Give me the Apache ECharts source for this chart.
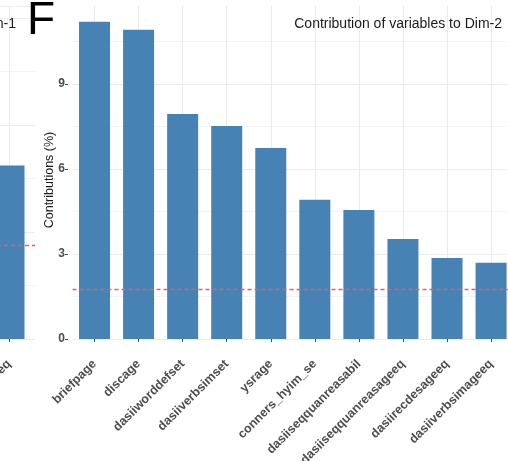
<!DOCTYPE html>
<html><head><meta charset="utf-8">
<script src="https://cdn.jsdelivr.net/npm/echarts@6/dist/echarts.min.js"></script>
<style>html,body{margin:0;padding:0;background:#fff}#c{width:508px;height:461px}</style>
</head><body><div id="c"></div>
<script>
// Main panel (F): Contribution of variables to Dim-2
const categories = ['briefpage', 'discage', 'dasiiworddefset', 'dasiiverbsimset', 'ysrage',
  'conners_hyim_se', 'dasiiseqquanreasabil', 'dasiiseqquanreasageeq', 'dasiirecdesageeq', 'dasiiverbsimageeq'];
const contributions = [11.19, 10.91, 7.94, 7.52, 6.74, 4.91, 4.55, 3.53, 2.86, 2.69];
const expectedContribution = 1.75;
const mainTitle = 'Contribution of variables to Dim-2';
const yAxisTitle = 'Contributions (%)';
const panelLetter = 'F';

// Neighbouring panel (cut off on the left): Dim-1, only its last bar is visible
const leftCategories = ['dasiiverbsimageeq'];
const leftContributions = [3.24];
const leftExpected = 1.75;
const leftTitle = 'Contribution of variables to Dim-1';

const FONT = 'Liberation Sans, Arial, sans-serif';
const BAR = '#4682B4';
const GRID_MAJOR = '#ebebeb';
const GRID_MINOR = '#f3f3f3';
const HLINE = '#e8605c';

const chart = echarts.init(document.getElementById('c'), null, {renderer: 'canvas'});
chart.setOption({
  animation: false,
  backgroundColor: '#ffffff',
  textStyle: {fontFamily: FONT},
  title: [
    {text: mainTitle, right: 6, top: 17, padding: 0,
     textStyle: {fontFamily: FONT, fontSize: 14, fontWeight: 'normal', color: '#1a1a1a'}},
    {text: leftTitle, right: 492, top: 17, padding: 0,
     textStyle: {fontFamily: FONT, fontSize: 14, fontWeight: 'normal', color: '#1a1a1a'}},
    {text: panelLetter, left: 27, top: -2, padding: 0,
     textStyle: {fontFamily: FONT, fontSize: 46, fontWeight: 'normal', color: '#000000'}}
  ],
  graphic: [{
    type: 'text', x: 50, y: 180, rotation: Math.PI / 2,
    style: {text: yAxisTitle, fontFamily: FONT, fontSize: 12.5, fill: '#1a1a1a',
            align: 'center', verticalAlign: 'middle'}
  }],
  grid: [
    {left: 72.5, right: -5.1, top: 6, bottom: 122, containLabel: false, outerBoundsMode: 'none'},
    {left: -17, width: 52, top: 6, bottom: 122, containLabel: false, outerBoundsMode: 'none'}
  ],
  xAxis: [
    {type: 'category', gridIndex: 0, data: categories, boundaryGap: true, offset: 15,
     axisLine: {show: false},
     axisTick: {show: true, alignWithLabel: true, length: 3, lineStyle: {color: '#4d4d4d'}},
     axisLabel: {rotate: 45, interval: 0, margin: 8, fontFamily: FONT, fontSize: 12.5,
                 fontWeight: 'bold', color: '#4d4d4d'},
     splitLine: {show: true, alignWithLabel: true, lineStyle: {color: GRID_MAJOR, width: 1}}},
    {type: 'category', gridIndex: 1, data: leftCategories, boundaryGap: true, offset: 15,
     axisLine: {show: false},
     axisTick: {show: true, alignWithLabel: true, length: 3, lineStyle: {color: '#4d4d4d'}},
     axisLabel: {rotate: 45, interval: 0, margin: 8, fontFamily: FONT, fontSize: 12.5,
                 fontWeight: 'bold', color: '#4d4d4d'},
     splitLine: {show: true, alignWithLabel: true, lineStyle: {color: GRID_MAJOR, width: 1}}}
  ],
  yAxis: [
    {type: 'value', gridIndex: 0, min: 0, max: 11.75, interval: 3, offset: 4.5,
     axisLine: {show: false},
     axisTick: {show: true, length: 3, lineStyle: {color: '#4d4d4d'}},
     axisLabel: {margin: 3, showMaxLabel: false, fontFamily: FONT, fontSize: 12,
                 fontWeight: 'bold', color: '#4d4d4d'},
     splitLine: {show: true, showMaxLine: false, lineStyle: {color: GRID_MAJOR, width: 1}},
     minorTick: {show: false, splitNumber: 2},
     minorSplitLine: {show: true, lineStyle: {color: GRID_MINOR, width: 1}}},
    {type: 'value', gridIndex: 1, min: 0, max: 6.22, interval: 2,
     axisLine: {show: false}, axisTick: {show: false}, axisLabel: {show: false},
     splitLine: {show: true, lineStyle: {color: GRID_MAJOR, width: 1}},
     minorTick: {show: false, splitNumber: 2},
     minorSplitLine: {show: true, lineStyle: {color: GRID_MINOR, width: 1}}}
  ],
  series: [
    {type: 'bar', xAxisIndex: 0, yAxisIndex: 0, data: contributions, barWidth: 31,
     itemStyle: {color: BAR},
     markLine: {silent: true, symbol: ['none', 'none'], label: {show: false},
                lineStyle: {color: HLINE, type: [4, 3], width: 1.3, opacity: 1},
                emphasis: {disabled: true},
                data: [{yAxis: expectedContribution}]}},
    {type: 'bar', xAxisIndex: 1, yAxisIndex: 1, data: leftContributions, barWidth: 31,
     itemStyle: {color: BAR},
     markLine: {silent: true, symbol: ['none', 'none'], label: {show: false},
                lineStyle: {color: HLINE, type: [4, 3], width: 1.3, opacity: 1},
                emphasis: {disabled: true},
                data: [{yAxis: leftExpected}]}}
  ]
});
</script></body></html>
